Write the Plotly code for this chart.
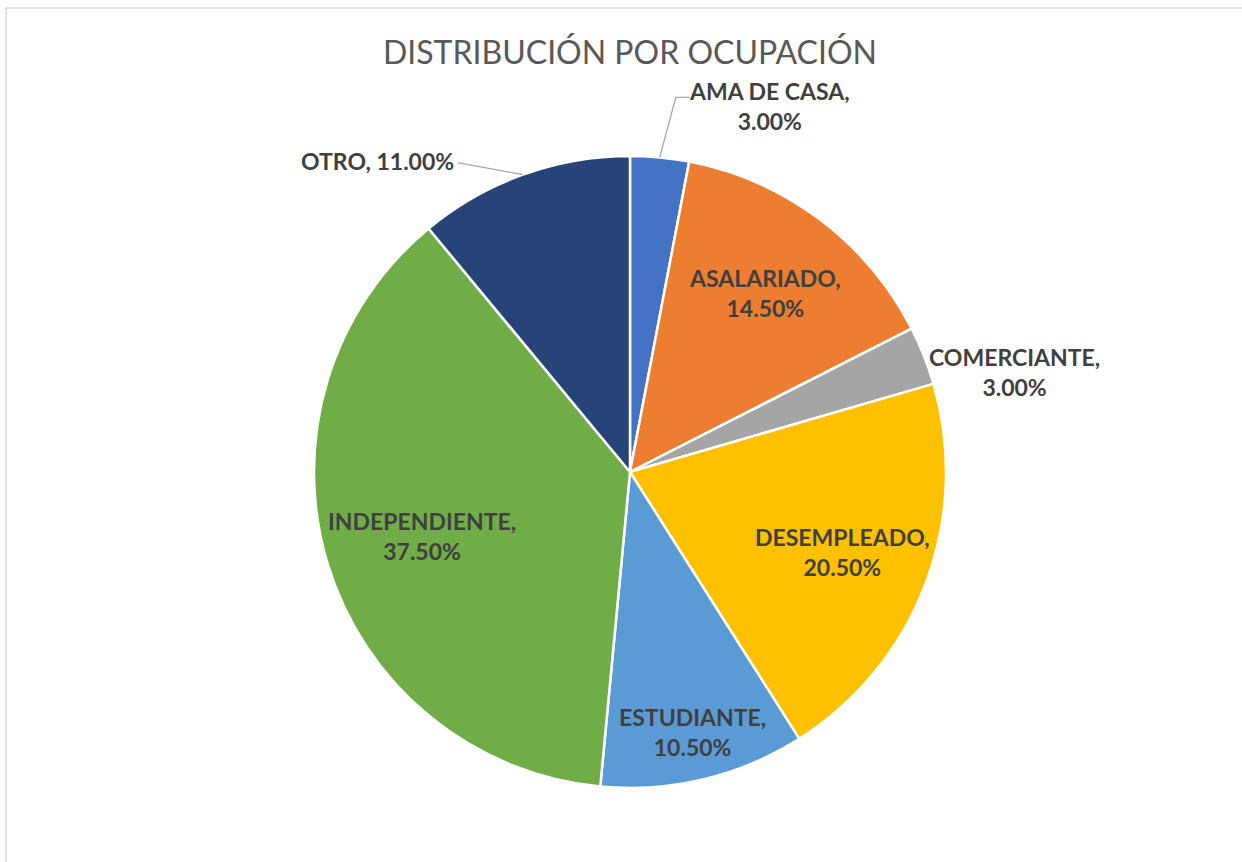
import math
import plotly.graph_objects as go

categories = ["AMA DE CASA", "ASALARIADO", "COMERCIANTE", "DESEMPLEADO",
              "ESTUDIANTE", "INDEPENDIENTE", "OTRO"]
values = [3.0, 14.5, 3.0, 20.5, 10.5, 37.5, 11.0]
colors = ["#4472C4", "#ED7D31", "#A5A5A5", "#FFC000", "#5B9BD5", "#70AD47", "#264478"]
title_text = "DISTRIBUCIÓN POR OCUPACIÓN"

# label placement style (Excel "best fit"): inside labels at a fraction of the radius,
# outside labels offset in pixels from the slice edge, with optional leader line (pixel offsets)
inside_frac = {"ASALARIADO": 0.71, "DESEMPLEADO": 0.72, "ESTUDIANTE": 0.845, "INDEPENDIENTE": 0.69}
outside = {"AMA DE CASA": dict(dx=110, dy=-51, sep="<br>", leader=[(16, -60), (30, -60)]),
           "COMERCIANTE": dict(dx=91, dy=16, sep="<br>", leader=None),
           "OTRO": dict(dx=-145, dy=-14, sep=" ", leader=[(-65, -12)])}

W, H = 1242, 862
ML, MR, MT, MB = 18, 0, 156, 74
pw, ph = W - ML - MR, H - MT - MB
R = min(pw, ph) / 2

LABEL_FONT = dict(family="Lato, 'Open Sans', sans-serif", size=23, color="#404040", weight="bold")

fig = go.Figure(go.Pie(
    labels=categories, values=values, sort=False, direction="clockwise", rotation=0,
    marker=dict(colors=colors, line=dict(color="white", width=2.5)),
    textinfo="none",
    showlegend=False, hoverinfo="label+percent",
))


def to_paper(x_px, y_px):
    # pixel offsets from pie center -> paper coordinates
    return 0.5 + x_px / pw, 0.5 - y_px / ph


total = sum(values)
cum = 0.0
annotations = []
shapes = []
for c, v in zip(categories, values):
    mid = (cum + v / 2) / total * 2 * math.pi
    cum += v
    pct = f"{v / total * 100:.2f}%"
    sx, sy = math.sin(mid), -math.cos(mid)
    if c in inside_frac:
        f = inside_frac[c]
        x, y = to_paper(R * f * sx, R * f * sy)
        annotations.append(dict(x=x, y=y, xref="paper", yref="paper", text=f"{c},<br>{pct}",
                                showarrow=False, xanchor="center", yanchor="middle",
                                font=LABEL_FONT, align="center"))
    else:
        o = outside[c]
        ex, ey = R * sx, R * sy
        x, y = to_paper(ex + o["dx"], ey + o["dy"])
        annotations.append(dict(x=x, y=y, xref="paper", yref="paper",
                                text=f"{c},{o['sep']}{pct}",
                                showarrow=False, xanchor="center", yanchor="middle",
                                font=LABEL_FONT, align="center"))
        if o["leader"]:
            pts = [(ex, ey)] + [(ex + a, ey + b) for a, b in o["leader"]]
            pp = [to_paper(a, b) for a, b in pts]
            path = "M " + " L ".join(f"{a:.5f},{b:.5f}" for a, b in pp)
            shapes.append(dict(type="path", xref="paper", yref="paper", path=path,
                               line=dict(color="#A6A6A6", width=1.3)))

shapes.append(dict(type="rect", xref="paper", yref="paper",
                   x0=(6 - ML) / pw, x1=(W + 20 - ML) / pw,
                   y0=-(MB + 20) / ph, y1=(ph + MT - 8) / ph,
                   line=dict(color="#D9D9D9", width=1.5), fillcolor="rgba(0,0,0,0)", layer="below"))

fig.update_layout(
    width=W, height=H,
    margin=dict(l=ML, r=MR, t=MT, b=MB),
    paper_bgcolor="white", plot_bgcolor="white",
    title=dict(text=title_text, x=630 / W, xanchor="center", y=1 - 53 / H, yanchor="middle",
               font=dict(family="Lato, 'Open Sans', sans-serif", size=32, color="#595959")),
    annotations=annotations,
    shapes=shapes,
)

fig.write_html("out.html", config={"displayModeBar": False},
               post_script="document.body.style.margin='0';document.body.style.padding='0';")
